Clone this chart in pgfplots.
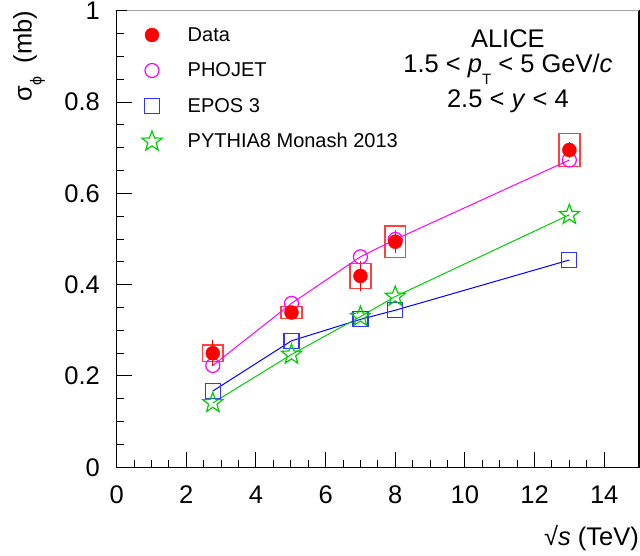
\documentclass[border=0pt]{standalone}
\usepackage{fontspec}
\setmainfont{Liberation Sans}
\usepackage{pgfplots}
\pgfplotsset{compat=1.18}
\definecolor{rgreen}{RGB}{0,204,0}
\definecolor{rmag}{RGB}{255,0,255}
\newcommand{\fs}[1]{\fontsize{#1}{#1}\selectfont}
\pgfdeclareplotmark{ostar}{%
  \pgfpathmoveto{\pgfqpoint{0pt}{\pgfplotmarksize}}%
  \pgfpathlineto{\pgfqpoint{-0.247\pgfplotmarksize}{0.340\pgfplotmarksize}}%
  \pgfpathlineto{\pgfqpoint{-0.951\pgfplotmarksize}{0.309\pgfplotmarksize}}%
  \pgfpathlineto{\pgfqpoint{-0.399\pgfplotmarksize}{-0.130\pgfplotmarksize}}%
  \pgfpathlineto{\pgfqpoint{-0.588\pgfplotmarksize}{-0.809\pgfplotmarksize}}%
  \pgfpathlineto{\pgfqpoint{0pt}{-0.420\pgfplotmarksize}}%
  \pgfpathlineto{\pgfqpoint{0.588\pgfplotmarksize}{-0.809\pgfplotmarksize}}%
  \pgfpathlineto{\pgfqpoint{0.399\pgfplotmarksize}{-0.130\pgfplotmarksize}}%
  \pgfpathlineto{\pgfqpoint{0.951\pgfplotmarksize}{0.309\pgfplotmarksize}}%
  \pgfpathlineto{\pgfqpoint{0.247\pgfplotmarksize}{0.340\pgfplotmarksize}}%
  \pgfpathclose
  \pgfusepathqstroke
}
\begin{document}
\begin{tikzpicture}
\begin{axis}[
  at={(0,0)}, anchor=south west,
  scale only axis, width=522.3pt, height=456.6pt,
  xmin=0, xmax=15, ymin=0, ymax=1,
  clip=false,
  xtick={0,2,4,6,8,10,12,14}, ytick={0,0.2,0.4,0.6,0.8,1},
  minor x tick num=3, minor y tick num=3,
  tick pos=left, tick align=inside,
  major tick length=15pt, minor tick length=7.5pt,
  axis line style={line width=1.3pt},
  every tick/.style={black, line width=1pt},
  /pgf/number format/assume math mode=true,
  tick label style={font=\fs{25.5}, inner sep=0pt},
  xticklabel style={anchor=base, yshift=-35.7pt},
  yticklabel style={anchor=east, xshift=-16.7pt},
  legend style={at={(rel axis cs:0,1)}, anchor=north west, xshift=15.3pt, yshift=-6.55pt,
    draw=none, fill=none, inner sep=0pt, outer sep=0pt, row sep=0pt, font=\fs{20},
    nodes={inner sep=0pt}, /tikz/every odd column/.style={column sep=15.7pt}},
  legend cell align=left,
  legend image code/.code={\path[draw=none, fill=none] (-20pt,-17.75pt) rectangle (20pt,17.75pt); \draw[#1] plot coordinates {(0pt,0pt)};},
]
\addlegendimage{only marks, mark=*, red, mark size=7pt}
\addlegendentry{Data}
\addlegendimage{only marks, mark=o, rmag, mark size=7pt, mark options={line width=1.2pt}}
\addlegendentry{PHOJET}
\addlegendimage{only marks, mark=square, blue!80, mark size=7.5pt, mark options={line width=1.2pt}}
\addlegendentry{EPOS 3}
\addlegendimage{only marks, mark=ostar, rgreen, mark size=10.5pt, mark options={line width=1.2pt}}
\addlegendentry{PYTHIA8 Monash 2013}

% systematic boxes
\addplot[red!75, line width=1.5pt, line cap=rect, forget plot] coordinates {(2.46,0.232) (3.06,0.232) (3.06,0.268) (2.46,0.268) (2.46,0.232)};
\addplot[red!75, line width=1.5pt, line cap=rect, forget plot] coordinates {(4.72,0.326) (5.32,0.326) (5.32,0.352) (4.72,0.352) (4.72,0.326)};
\addplot[red!75, line width=1.5pt, line cap=rect, forget plot] coordinates {(6.70,0.392) (7.30,0.392) (7.30,0.446) (6.70,0.446) (6.70,0.392)};
\addplot[red!75, line width=1.5pt, line cap=rect, forget plot] coordinates {(7.70,0.459) (8.30,0.459) (8.30,0.529) (7.70,0.529) (7.70,0.459)};
\addplot[red!75, line width=1.5pt, line cap=rect, forget plot] coordinates {(12.70,0.659) (13.30,0.659) (13.30,0.731) (12.70,0.731) (12.70,0.659)};

% PHOJET
\addplot[rmag, line width=1pt, mark=o, mark size=7pt, mark options={line width=1.2pt}, forget plot] coordinates {
(2.76,0.223) (5.02,0.359) (7.00,0.461) (8.00,0.499) (13.00,0.673)};
% EPOS 3
\addplot[blue, line width=1pt, mark=square, mark size=7.5pt, mark options={line width=1.2pt, draw=blue!80}, forget plot] coordinates {
(2.76,0.167) (5.02,0.277) (7.00,0.324) (8.00,0.344) (13.00,0.454)};
% PYTHIA8
\addplot[rgreen, line width=1pt, mark=ostar, mark size=10.5pt, mark options={line width=1.2pt}, forget plot] coordinates {
(2.76,0.141) (5.02,0.247) (7.00,0.330) (8.00,0.374) (13.00,0.553)};

% Data
\addplot[red, only marks, mark=*, mark size=7pt, forget plot,
  error bars/.cd, y dir=both, y explicit, error mark=-,
  error bar style={red, line width=1pt}, error mark options={red, line width=1pt, mark size=3pt}]
coordinates {
(2.76,0.250) +- (0,0.022)
(5.02,0.339) +- (0,0.008)
(7.00,0.419) +- (0,0.027)
(8.00,0.494) +- (0,0.019)
(13.00,0.695) +- (0,0.010)
};

\draw[gray!70, line width=1.3pt] (rel axis cs:0.02,1) -- (rel axis cs:1,1);

\node[anchor=base, font=\fs{25.5}, inner sep=0pt] at ([yshift=-37.3pt]rel axis cs:0.749,1) {ALICE};
\node[anchor=base, font=\fs{25.5}, inner sep=0pt] at ([yshift=-62.3pt]rel axis cs:0.749,1) {1.5 < \textit{p}\raisebox{-12pt}{\fs{15}T} < 5 GeV/\textit{c}};
\node[anchor=base, font=\fs{25.5}, inner sep=0pt] at ([yshift=-97.3pt]rel axis cs:0.749,1) {2.5 < \textit{y} < 4};

\node[rotate=90, anchor=north east, inner sep=0pt, font=\fs{25.5}] at ([xshift=-103.7pt]rel axis cs:0,1) {σ\raisebox{-10pt}{\fs{16}ϕ}\hspace{6pt} (mb)};
\node[anchor=base east, inner sep=0pt, font=\fs{25.5}] at ([yshift=-77.7pt]rel axis cs:1,0) {√\textit{s} (TeV)};
\end{axis}
\pgfresetboundingbox
\path[use as bounding box] (-116.7pt,-87.7pt) rectangle (523.3pt,467.3pt);
\end{tikzpicture}
\end{document}
